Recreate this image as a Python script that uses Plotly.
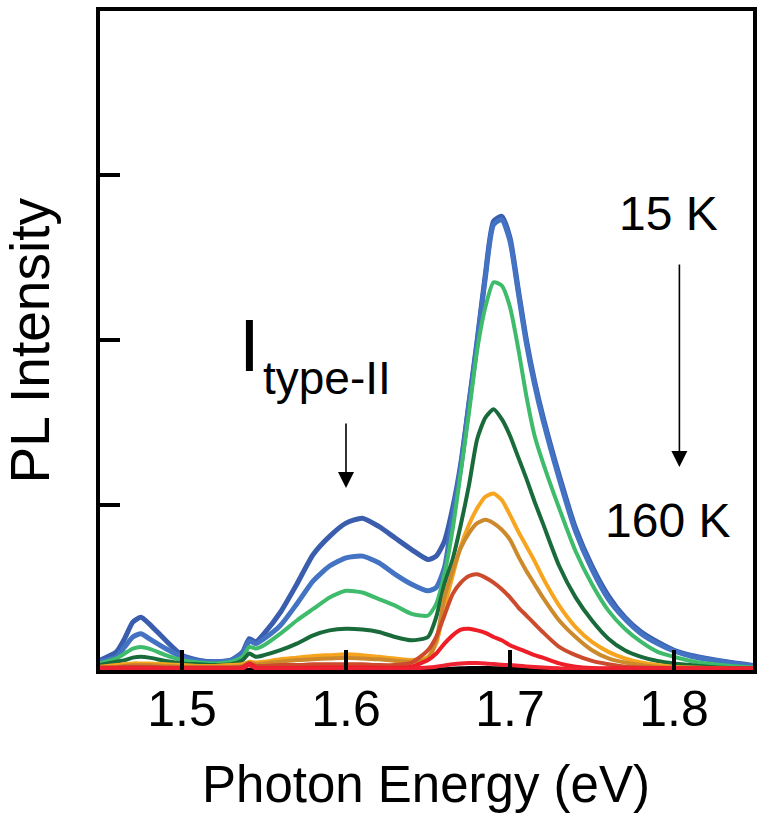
import plotly.graph_objects as go

# Photon energy grid (eV) shared by all spectra
energy = [1.450, 1.460, 1.465, 1.470, 1.475, 1.480, 1.490, 1.500, 1.510, 1.520,
          1.530, 1.537, 1.541, 1.545, 1.550, 1.560, 1.570, 1.580, 1.590, 1.600,
          1.610, 1.620, 1.630, 1.640, 1.650, 1.655, 1.660, 1.665, 1.670, 1.675,
          1.680, 1.685, 1.690, 1.695, 1.700, 1.705, 1.710, 1.715, 1.720, 1.730,
          1.740, 1.750, 1.760, 1.770, 1.780, 1.790, 1.800, 1.810, 1.820, 1.835, 1.850]

# PL intensity (arb. units), lowest temperature first
pl_1 = [0.06, 0.11, 0.19, 0.29, 0.32, 0.28, 0.18, 0.09, 0.06, 0.05,
        0.06, 0.11, 0.19, 0.17, 0.22, 0.35, 0.52, 0.70, 0.81, 0.89,
        0.92, 0.87, 0.80, 0.73, 0.67, 0.69, 0.78, 0.98, 1.25, 1.62,
        2.00, 2.40, 2.72, 2.75, 2.62, 2.31, 2.00, 1.75, 1.54, 1.18,
        0.86, 0.63, 0.45, 0.32, 0.23, 0.17, 0.12, 0.09, 0.07, 0.045, 0.025]
pl_2 = [0.05, 0.08, 0.14, 0.20, 0.22, 0.19, 0.13, 0.08, 0.055, 0.05,
        0.06, 0.10, 0.175, 0.16, 0.19, 0.27, 0.40, 0.54, 0.63, 0.68,
        0.69, 0.65, 0.58, 0.52, 0.48, 0.50, 0.62, 0.93, 1.23, 1.61,
        1.98, 2.38, 2.70, 2.73, 2.60, 2.29, 1.98, 1.73, 1.52, 1.16,
        0.84, 0.61, 0.43, 0.31, 0.22, 0.16, 0.115, 0.085, 0.065, 0.042, 0.022]
pl_3 = [0.04, 0.07, 0.10, 0.13, 0.14, 0.13, 0.09, 0.06, 0.045, 0.04,
        0.05, 0.08, 0.14, 0.13, 0.15, 0.22, 0.30, 0.37, 0.44, 0.48,
        0.47, 0.43, 0.39, 0.34, 0.33, 0.40, 0.58, 0.85, 1.20, 1.56,
        1.94, 2.20, 2.35, 2.33, 2.20, 1.95, 1.66, 1.42, 1.26, 0.98,
        0.72, 0.52, 0.36, 0.25, 0.17, 0.11, 0.08, 0.055, 0.04, 0.025, 0.015]
pl_4 = [0.03, 0.05, 0.06, 0.075, 0.08, 0.075, 0.055, 0.04, 0.035, 0.03,
        0.035, 0.06, 0.10, 0.08, 0.09, 0.12, 0.16, 0.21, 0.24, 0.25,
        0.245, 0.23, 0.20, 0.18, 0.20, 0.32, 0.52, 0.67, 0.88, 1.12,
        1.40, 1.53, 1.58, 1.52, 1.42, 1.29, 1.16, 1.02, 0.89, 0.63,
        0.44, 0.30, 0.19, 0.12, 0.08, 0.055, 0.04, 0.03, 0.02, 0.012, 0.008]
pl_5 = [0.02, 0.03, 0.035, 0.04, 0.04, 0.04, 0.035, 0.03, 0.025, 0.025,
        0.03, 0.035, 0.05, 0.045, 0.05, 0.065, 0.075, 0.085, 0.09, 0.095,
        0.09, 0.08, 0.07, 0.06, 0.08, 0.16, 0.38, 0.57, 0.75, 0.88,
        0.98, 1.05, 1.07, 1.03, 0.94, 0.84, 0.75, 0.66, 0.56, 0.39,
        0.26, 0.17, 0.11, 0.07, 0.045, 0.03, 0.02, 0.015, 0.012, 0.008, 0.005]
pl_6 = [0.015, 0.02, 0.025, 0.03, 0.03, 0.03, 0.025, 0.02, 0.02, 0.02,
        0.02, 0.025, 0.045, 0.035, 0.04, 0.05, 0.06, 0.065, 0.07, 0.075,
        0.07, 0.065, 0.055, 0.05, 0.07, 0.18, 0.44, 0.60, 0.74, 0.83,
        0.89, 0.91, 0.89, 0.85, 0.79, 0.69, 0.60, 0.52, 0.44, 0.30,
        0.20, 0.12, 0.07, 0.045, 0.03, 0.02, 0.015, 0.012, 0.01, 0.006, 0.004]
pl_7 = [0.015, 0.015, 0.02, 0.02, 0.02, 0.02, 0.015, 0.015, 0.015, 0.015,
        0.015, 0.02, 0.04, 0.025, 0.025, 0.03, 0.03, 0.035, 0.035, 0.035,
        0.035, 0.03, 0.03, 0.045, 0.12, 0.20, 0.33, 0.46, 0.53, 0.57,
        0.58, 0.56, 0.53, 0.49, 0.44, 0.38, 0.33, 0.28, 0.23, 0.14,
        0.09, 0.055, 0.035, 0.02, 0.015, 0.012, 0.01, 0.01, 0.008, 0.006, 0.005]
pl_8 = [0.01, 0.01, 0.01, 0.01, 0.01, 0.01, 0.01, 0.01, 0.01, 0.01,
        0.01, 0.015, 0.04, 0.015, 0.012, 0.012, 0.012, 0.014, 0.015, 0.015,
        0.015, 0.014, 0.013, 0.02, 0.06, 0.10, 0.16, 0.21, 0.245, 0.25,
        0.24, 0.225, 0.20, 0.18, 0.15, 0.13, 0.11, 0.09, 0.075, 0.04,
        0.02, 0.012, 0.01, 0.01, 0.01, 0.01, 0.01, 0.01, 0.01, 0.01, 0.01]
pl_9 = [0.008, 0.008, 0.008, 0.008, 0.008, 0.008, 0.008, 0.008, 0.008, 0.008,
        0.008, 0.01, 0.03, 0.01, 0.008, 0.008, 0.008, 0.008, 0.008, 0.008,
        0.008, 0.008, 0.008, 0.01, 0.015, 0.02, 0.028, 0.035, 0.04, 0.042,
        0.042, 0.04, 0.036, 0.032, 0.03, 0.026, 0.022, 0.018, 0.015, 0.01,
        0.008, 0.008, 0.008, 0.008, 0.008, 0.008, 0.008, 0.008, 0.008, 0.008, 0.008]
pl_10 = [0.002, 0.002, 0.002, 0.002, 0.002, 0.002, 0.002, 0.002, 0.002, 0.002,
         0.002, 0.002, 0.002, 0.002, 0.002, 0.002, 0.002, 0.002, 0.002, 0.002,
         0.002, 0.002, 0.002, 0.002, 0.003, 0.004, 0.005, 0.008, 0.01, 0.012,
         0.012, 0.012, 0.011, 0.01, 0.008, 0.006, 0.005, 0.004, 0.003, 0.002,
         0.002, 0.002, 0.002, 0.002, 0.002, 0.002, 0.002, 0.002, 0.002, 0.002, 0.002]

spectra = [pl_1, pl_2, pl_3, pl_4, pl_5, pl_6, pl_7, pl_8, pl_9, pl_10]
colors = ["#3a5ead", "#4473c4", "#3fbb6c", "#1a6b3b", "#f7a41e",
          "#cc8a2c", "#cc4b2c", "#ee1d26", "#ee2230", "#000000"]

x_ticks = [1.5, 1.6, 1.7, 1.8]
y_ticks = [1, 2, 3]

W, H = 759, 814
L, R, T, B = 100, 2, 11, 144
PW, PH = W - L - R, H - T - B


def px(x, y):
    """Pixel position on the page -> paper coordinates."""
    return (x - L) / PW, 1 - (y - T) / PH


FONT = "Liberation Sans, Arial, sans-serif"

fig = go.Figure()
# black baseline spectrum underneath, then the others from high to low intensity
order = [9] + list(range(9))
for i in order:
    fig.add_trace(go.Scatter(
        x=energy, y=spectra[i], mode="lines",
        line=dict(color=colors[i], width=5 if i < 2 else 4,
                  shape="spline", smoothing=0.6),
        hoverinfo="skip", showlegend=False,
    ))

axis_common = dict(
    showline=True, linecolor="black", linewidth=4, mirror=True,
    ticks="inside", tickcolor="black", tickwidth=4, ticklen=20,
    showgrid=False, zeroline=False,
)

fig.update_xaxes(range=[1.45, 1.45 + PW / 1650], tickvals=x_ticks,
                 ticktext=[f"{v:.1f}" for v in x_ticks],
                 tickfont=dict(family=FONT, size=50, color="black"),
                 ticklabelstandoff=-8, **axis_common)
fig.update_yaxes(range=[0, PH / 165], tickvals=y_ticks, showticklabels=False,
                 **axis_common)

annotations = []


def label(text, x, y, size, angle=0):
    ax_, ay_ = px(x, y)
    annotations.append(dict(text=text, x=ax_, y=ay_, xref="paper", yref="paper",
                            xanchor="center", yanchor="middle", showarrow=False,
                            textangle=angle,
                            font=dict(family=FONT, size=size, color="black")))


label("Photon Energy (eV)", 428, 784, 51)
label("PL Intensity", 30, 340, 55, angle=-90)
label("15 K", 672, 213, 48)
label("160 K", 671, 520, 48)
label("I", 250, 345, 75)
label("type-II", 328, 378, 46)

# arrows: I_type-II peak marker and temperature direction
for x, y_tail, y_tip in [(1.60, 1.503, 1.103), (1.8033, 2.467, 1.23)]:
    annotations.append(dict(x=x, y=y_tip, ax=x, ay=y_tail, xref="x", yref="y",
                            axref="x", ayref="y", text="", showarrow=True,
                            arrowhead=2, arrowsize=2.0, arrowwidth=1.6,
                            arrowcolor="black"))

fig.update_layout(
    width=W, height=H,
    margin=dict(l=L, r=R, t=T, b=B),
    paper_bgcolor="white", plot_bgcolor="white",
    annotations=annotations,
    showlegend=False,
)

fig.write_html("out.html")
